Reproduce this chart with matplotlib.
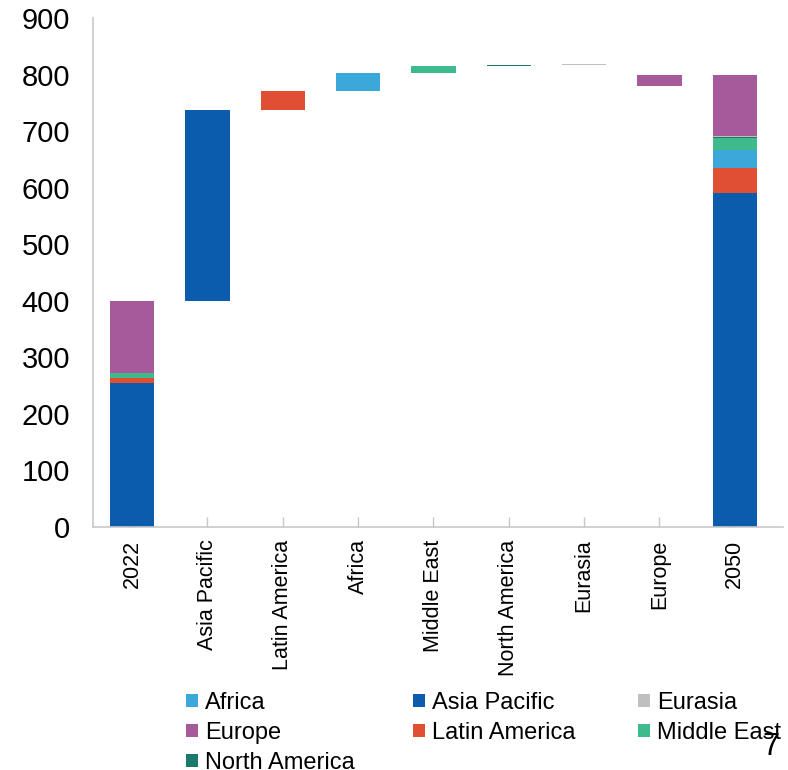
import matplotlib
matplotlib.use("Agg")
import matplotlib.pyplot as plt
from matplotlib.patches import Patch

plt.rcParams['font.family'] = ['Liberation Sans', 'DejaVu Sans']

# Categories along the x axis of the waterfall
categories = ["2022", "Asia Pacific", "Latin America", "Africa", "Middle East",
              "North America", "Eurasia", "Europe", "2050"]

# Regional stack order (bottom to top) and values
regions = ["Asia Pacific", "Latin America", "Africa", "Middle East",
           "North America", "Eurasia", "Europe"]
values_2022 = [254, 10, 0, 8, 0.5, 0.5, 127]
values_2050 = [591, 44.5, 31.5, 21, 2, 2, 107.5]

region_colors = {
    "Africa": "#3BA8DC",
    "Asia Pacific": "#0B5CAD",
    "Eurasia": "#BFBFBF",
    "Europe": "#A65A9C",
    "Latin America": "#E04F33",
    "Middle East": "#3FBA8C",
    "North America": "#1B7A68",
}
legend_columns = [["Africa", "Europe", "North America"],
                  ["Asia Pacific", "Latin America"],
                  ["Eurasia", "Middle East"]]

W, H = 788, 770
fig = plt.figure(figsize=(W / 100, H / 100), dpi=100)
ax = fig.add_axes([93 / W, 243 / H, 690 / W, 509 / H])

bar_w = 0.59
x = list(range(len(categories)))

# Start and end stacks
for xi, vals in ((x[0], values_2022), (x[-1], values_2050)):
    base = 0
    for reg, v in zip(regions, vals):
        ax.bar(xi, v, bottom=base, width=bar_w, color=region_colors[reg],
               linewidth=0, zorder=2)
        base += v

# Floating bars for each region's change
total_2050 = sum(values_2050)
level = sum(values_2022)
for i, reg in enumerate(regions):
    d = values_2050[i] - values_2022[i]
    if d >= 0:
        bottom = level
    else:
        # declines hang below the 2050 level
        bottom = total_2050 + d
    ax.bar(x[i + 1], abs(d), bottom=bottom, width=bar_w,
           color=region_colors[reg], linewidth=0, zorder=2)
    level += d

ax.set_xlim(-0.52, 8.64)
ax.set_ylim(0, 900)
ax.set_yticks(range(0, 901, 100))
ax.set_xticks(x)
ax.set_xticklabels(categories, rotation=90, fontsize=15.5, va='top', ha='center')
ax.tick_params(axis='y', length=0, pad=16.5, labelsize=21)
ax.tick_params(axis='x', direction='in', length=7, width=1, color='#C8C8C8', pad=9)
for s in ("top", "right"):
    ax.spines[s].set_visible(False)
for s in ("left", "bottom"):
    ax.spines[s].set_color('#C8C8C8')
    ax.spines[s].set_linewidth(1.2)
ax.spines['bottom'].set_zorder(3)

# Legend laid out in three columns
col_x = [186, 413, 638]
for cx, names in zip(col_x, legend_columns):
    handles = [Patch(facecolor=region_colors[n], edgecolor='none', label=n) for n in names]
    fig.legend(handles=handles, loc='upper left',
               bbox_to_anchor=(cx / W, 1 - 692 / H), frameon=False,
               fontsize=17, handlelength=0.5, handleheight=0.5,
               handletextpad=0.3, labelspacing=0.34, borderpad=0,
               borderaxespad=0)

fig.text(771 / W, 1 - 747 / H, "7", fontsize=22, ha='center', va='center')

fig.savefig("out.png", dpi=100)
